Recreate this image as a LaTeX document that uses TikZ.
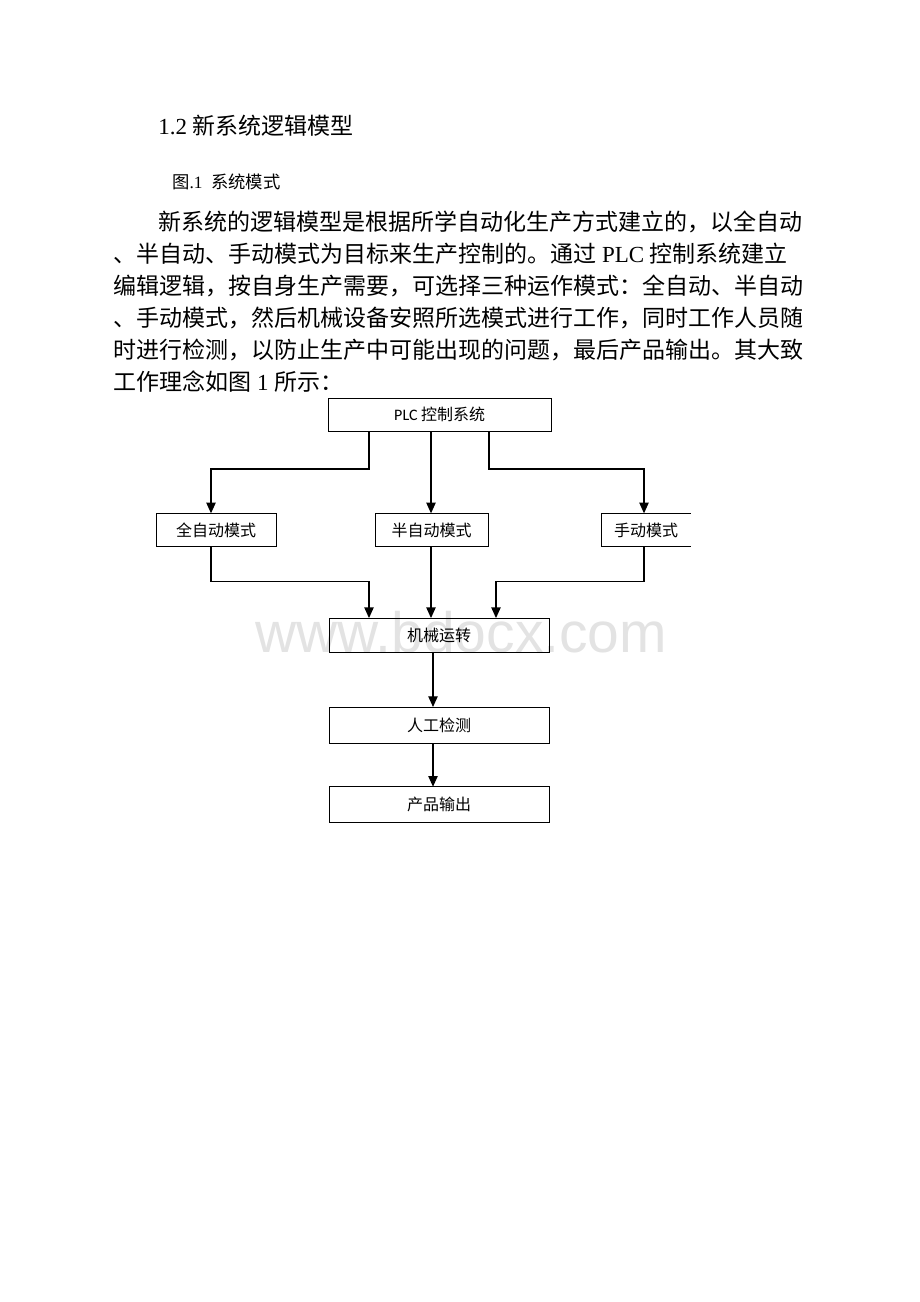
\documentclass[tikz,border=0pt]{standalone}
\usepackage{fontspec}
\setmainfont{Liberation Serif}
\newfontfamily\cjk{Noto Sans CJK SC}
\newfontfamily\boxlatin{Carlito}
\newfontfamily\wmfont{Liberation Sans}
\usetikzlibrary{arrows.meta}
\XeTeXlinebreaklocale "zh"
\XeTeXlinebreakskip=0pt plus 1pt

\tikzstyle{block} = [align=center, draw, rectangle, line width=0.75pt, inner sep=0pt, outer sep=0pt, minimum height=25pt, font=\cjk\fontsize{12}{14}\selectfont]
\tikzstyle{openblock} = [align=center, rectangle, inner sep=0pt, outer sep=0pt, minimum height=25pt, font=\cjk\fontsize{12}{14}\selectfont]
\tikzstyle{bodyline} = [anchor=base west, inner sep=0pt, align=justify, font=\fontsize{17.25}{20}\selectfont]
\tikzstyle{link} = [line width=0.9pt, -{Triangle[length=8pt,width=7pt]}]

\begin{document}
\begin{tikzpicture}[x=0.75pt,y=-0.75pt]
            %
            % page size of the reference
            \useasboundingbox (0,0) rectangle (920,1302);
            %
            % watermark behind the chart
            \node [anchor=base west, inner sep=0pt, text=black!11, font=\wmfont\fontsize{42.75}{44}\selectfont] (mark) at (255,652) {www.bdocx.com};
            %
            % heading, caption and the paragraph
            \node [anchor=base west, inner sep=0pt, font=\fontsize{17.25}{20}\selectfont] (title) at (158,135) {1.2 {\cjk 新系统逻辑模型}};
            \node [anchor=base west, inner sep=0pt, font=\fontsize{13}{15}\selectfont] (caption) at (172,189) {{\cjk 图}.1\ \ {\cjk 系统模式}};
            \node [bodyline, text width=485.25pt] (line1) at (158,230.5) {\parfillskip=0pt {\cjk 新系统的逻辑模型是根据所学自动化生产方式建立的，以全自动}};
            \node [bodyline, text width=519pt] (line2) at (113,262.5) {{\cjk 、半自动、手动模式为目标来生产控制的。通过} PLC {\cjk 控制系统建立}};
            \node [bodyline, text width=519pt] (line3) at (113,294.5) {\parfillskip=0pt {\cjk 编辑逻辑，按自身生产需要，可选择三种运作模式：全自动、半自动}};
            \node [bodyline, text width=519pt] (line4) at (113,326.5) {\parfillskip=0pt {\cjk 、手动模式，然后机械设备安照所选模式进行工作，同时工作人员随}};
            \node [bodyline, text width=519pt] (line5) at (113,358.5) {\parfillskip=0pt {\cjk 时进行检测，以防止生产中可能出现的问题，最后产品输出。其大致}};
            \node [bodyline, text width=519pt] (line6) at (113,390.5) {{\cjk 工作理念如图} 1 {\cjk 所示：}};
            %
            % We start by placing the blocks
            \node [block, minimum width=167pt, minimum height=24.5pt] (plc) at (439.7,414.7) {{\boxlatin PLC} 控制系统};
            \node [block, minimum width=90pt] (full) at (216,530) {全自动模式};
            \node [block, minimum width=84.75pt] (semi) at (431.5,530) {半自动模式};
            \node [openblock, minimum width=66.75pt] (manual) at (646.2,530) {手动模式};
            \node [block, minimum width=165pt, minimum height=26pt] (run) at (439,635.4) {机械运转};
            \node [block, minimum width=165pt, minimum height=27pt] (check) at (439,725) {人工检测};
            \node [block, minimum width=165pt, minimum height=27pt] (output) at (439,804.7) {产品输出};
            % the last mode box has no right side
            \draw [line width=0.75pt] (manual.north east) -- (manual.north west) -- (manual.south west) -- (manual.south east);
            %
            % columns and bus heights of the connectors
            \coordinate (colL) at (211,0);
            \coordinate (colM) at (431,0);
            \coordinate (colR) at (644,0);
            \coordinate (joinL) at (369,0);
            \coordinate (joinR) at (489,0);
            \coordinate (joinR2) at (496,0);
            \coordinate (colD) at (433,0);
            \coordinate (upbus) at (0,469);
            \coordinate (lowbus) at (0,581.7);
            %
            % Once the nodes are placed, connecting them is easy.
            \draw [link] (plc.south -| joinL) |- (upbus -| colL) -- (full.north -| colL);
            \draw [link] (plc.south -| colM) -- (semi.north -| colM);
            \draw [link] (plc.south -| joinR) |- (upbus -| colR) -- (manual.north -| colR);
            \draw [link] (full.south -| colL) |- (lowbus -| joinL) -- (run.north -| joinL);
            \draw [link] (semi.south -| colM) -- (run.north -| colM);
            \draw [link] (manual.south -| colR) |- (lowbus -| joinR2) -- (run.north -| joinR2);
            \draw [link] (run.south -| colD) -- (check.north -| colD);
            \draw [link] (check.south -| colD) -- (output.north -| colD);
            %
        \end{tikzpicture}
\end{document}
